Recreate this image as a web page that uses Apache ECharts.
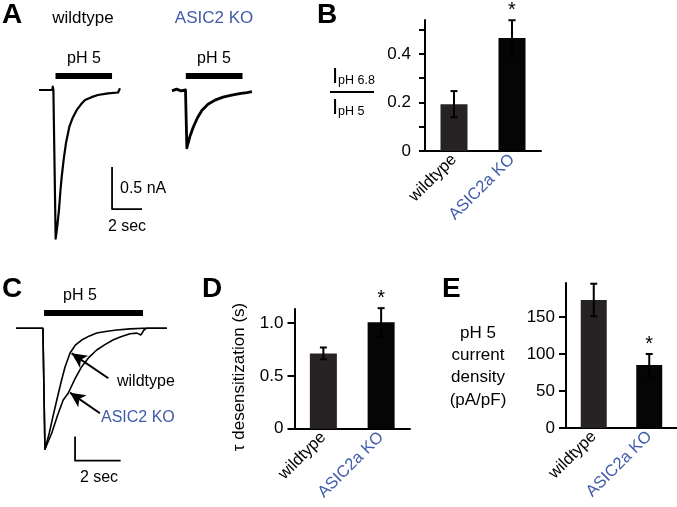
<!DOCTYPE html>
<html><head><meta charset="utf-8">
<script src="https://cdn.jsdelivr.net/npm/echarts@6/dist/echarts.min.js"></script>
<style>html,body{margin:0;padding:0;background:#fff}#c{width:677px;height:507px}</style>
</head><body><div id="c"></div><script>
// ---------- DATA ----------
const groups = ['wildtype', 'ASIC2a KO'];
// B: I(pH 6.8) / I(pH 5)
const ratioMean = [0.193, 0.466];
const ratioSem = [0.054, 0.073];
const ratioSig = [0, 1];
const ratioTicks = [0, 0.1, 0.2, 0.3, 0.4, 0.5];
const ratioTickLabels = [0, 0.2, 0.4];
// D: tau desensitization (s)
const tauMean = [0.714, 1.01];
const tauSem = [0.056, 0.133];
const tauSig = [0, 1];
const tauTicks = [0, 0.5, 1.0];
// E: pH 5 current density (pA/pF)
const densMean = [173, 85];
const densSem = [22, 15];
const densSig = [0, 1];
const densTicks = [0, 50, 100, 150];

// A: example current traces, [time (s), current (nA)]
const traceA_wt = [[0,0],[0.88,0],[0.92,0.04],[0.96,0],[1.04,0],[1.11,-1.77],[1.22,-1.62],[1.33,-1.43],[1.42,-1.22],[1.51,-1.04],[1.65,-0.82],[1.8,-0.63],[2.02,-0.44],[2.25,-0.33],[2.51,-0.24],[2.8,-0.17],[3.07,-0.12],[3.5,-0.085],[3.93,-0.06],[4.6,-0.04],[5.27,-0.03],[5.36,-0.02],[5.4,0.02]];
const traceA_ko = [[0,-0.01],[0.3,0.01],[0.6,-0.01],[0.9,0],[0.97,0.01],[0.99,-0.69],[1.2,-0.55],[1.42,-0.44],[1.7,-0.33],[2.0,-0.24],[2.4,-0.17],[2.87,-0.12],[3.4,-0.085],[3.98,-0.06],[4.6,-0.04],[5.0,-0.03],[5.33,-0.02]];
const stimA_wt = [1.1, 4.87];
const stimA_ko = [0.92, 4.7];
const stimLevelA = 0.167;          // nA, drawing level of pH bar
const scaleA = [4.87, -1.417];     // corner of 2 s / 0.5 nA scale bar
// C: normalized traces, [time (s), normalized current]
const traceC_wt = [[0,0],[1.18,0],[1.27,-1.0],[1.46,-0.865],[1.62,-0.73],[1.79,-0.593],[1.97,-0.45],[2.15,-0.32],[2.37,-0.204],[2.6,-0.14],[2.88,-0.097],[3.2,-0.065],[3.54,-0.039],[4.0,-0.024],[4.42,-0.014],[5.0,-0.005],[5.57,0],[6.62,0]];
const traceC_ko = [[0,0],[1.18,0],[1.27,-1.0],[1.57,-0.865],[1.82,-0.72],[2.07,-0.593],[2.29,-0.537],[2.58,-0.42],[2.88,-0.317],[3.2,-0.24],[3.54,-0.179],[3.9,-0.135],[4.25,-0.097],[4.6,-0.07],[5.0,-0.045],[5.3,-0.04],[5.48,-0.055],[5.61,-0.014],[5.72,0],[6.62,0]];
const stimC = [1.23, 5.57];
const stimLevelC = 0.126;
const scaleC = [2.59, -1.094];     // corner of 2 s scale bar
const arrowsC = [[[4.05,-0.413],[2.44,-0.207]], [[3.68,-0.702],[2.37,-0.532]]];

// ---------- STYLE ----------
const FONT = '"Liberation Sans", Arial, Helvetica, sans-serif';
const BLUE = '#3f5ba9';
const groupColors = ['#000000', BLUE];
const barColors = ['#272324', '#050505'];

const chart = echarts.init(document.getElementById('c'));

function errRender(params, api) {
  const xi = api.value(0), m = api.value(1), s = api.value(2), sig = api.value(3);
  const top = api.coord([xi, m + s]);
  const bot = api.coord([xi, m - s]);
  const x = top[0], cap = 3.5;
  const ls = {stroke: '#000', lineWidth: 2};
  const ch = [
    {type: 'line', shape: {x1: x, y1: top[1], x2: x, y2: bot[1]}, style: ls},
    {type: 'line', shape: {x1: x - cap, y1: top[1], x2: x + cap, y2: top[1]}, style: ls},
    {type: 'line', shape: {x1: x - cap, y1: bot[1], x2: x + cap, y2: bot[1]}, style: ls}
  ];
  if (sig) ch.push({type: 'text', x: x, y: top[1] - 10, style: {text: '*', fontSize: 20, fontFamily: FONT, fill: '#000', align: 'center', verticalAlign: 'middle'}});
  return {type: 'group', children: ch};
}
function errData(mean, sem, sig) { return mean.map((m, i) => [i, m, sem[i], sig[i]]); }
function barData(mean) { return mean.map((v, i) => ({value: v, itemStyle: {color: barColors[i]}})); }

const hiddenX = (g, max) => ({gridIndex: g, type: 'value', min: 0, max: max, show: false});
const hiddenY = (g, min, max) => ({gridIndex: g, type: 'value', min: min, max: max, show: false});
const catX = (g, margin) => ({
  gridIndex: g, type: 'category', data: groups,
  axisLine: {lineStyle: {color: '#000', width: 2}},
  axisTick: {show: false},
  axisLabel: {rotate: 45, fontSize: 16.5, fontFamily: FONT, margin: margin, color: (v, i) => groupColors[i]}
});
const valY = (g, max, ticks, labels, fmt, margin, tickLen) => ({
  gridIndex: g, type: 'value', min: 0, max: max,
  splitLine: {show: false},
  axisLine: {show: true, lineStyle: {color: '#000', width: 2}},
  axisTick: {show: true, length: tickLen, lineStyle: {color: '#000', width: 2}, customValues: ticks},
  axisLabel: {customValues: labels, formatter: fmt, fontSize: 17, fontFamily: FONT, color: '#000', margin: margin}
});
const fmt1 = v => (v === 0 ? '0' : v.toFixed(1));
const fmt0 = v => String(Math.round(v));

const lineS = (xi, data, width, color) => ({
  type: 'line', xAxisIndex: xi, yAxisIndex: xi, data: data, showSymbol: false, symbol: 'none',
  lineStyle: {color: color || '#000', width: width, cap: 'butt', join: 'round'}, silent: true, clip: false, z: 3
});

const option = {
  animation: false,
  backgroundColor: '#fff',
  textStyle: {fontFamily: FONT},
  grid: [
    {left: 39, top: 69, width: 105, height: 176.4},     // 0 A wildtype
    {left: 172, top: 69, width: 105, height: 176.4},    // 1 A KO
    {left: 425, top: 20, width: 116, height: 131},      // 2 B
    {left: 16, top: 304.1, width: 159.6, height: 157.3},// 3 C
    {left: 294.5, top: 309, width: 115.5, height: 119.7},// 4 D
    {left: 566, top: 283, width: 114, height: 145}      // 5 E
  ],
  xAxis: [hiddenX(0, 7), hiddenX(1, 7), catX(2, 6), hiddenX(3, 7), catX(4, 6), catX(5, 6)],
  yAxis: [
    hiddenY(0, -1.85, 0.25), hiddenY(1, -1.85, 0.25),
    valY(2, 0.54, ratioTicks, ratioTickLabels, fmt1, 14, 6),
    hiddenY(3, -1.1, 0.2),
    valY(4, 1.135, tauTicks, tauTicks, fmt1, 11, 7),
    valY(5, 196, densTicks, densTicks, fmt0, 11, 7)
  ],
  series: [
    lineS(0, traceA_wt, 2.2),
    lineS(0, stimA_wt.map(t => [t, stimLevelA]), 6),
    lineS(0, [[scaleA[0], scaleA[1] + 0.5], scaleA, [scaleA[0] + 2, scaleA[1]]], 1.8),
    lineS(1, traceA_ko, 2.8),
    lineS(1, stimA_ko.map(t => [t, stimLevelA]), 6),
    {type: 'bar', xAxisIndex: 2, yAxisIndex: 2, data: barData(ratioMean), barWidth: 27, silent: true},
    {type: 'custom', xAxisIndex: 2, yAxisIndex: 2, data: errData(ratioMean, ratioSem, ratioSig), renderItem: errRender, clip: false, z: 5, silent: true},
    lineS(3, traceC_wt, 1.6),
    Object.assign(lineS(3, traceC_ko, 1.6), {
      markLine: {
        silent: true, animation: false, symbol: ['none', 'arrow'], symbolSize: [11, 15],
        label: {show: false},
        lineStyle: {type: 'solid', color: '#000', width: 2},
        data: arrowsC.map(a => [{coord: a[0]}, {coord: a[1]}])
      }
    }),
    lineS(3, stimC.map(t => [t, stimLevelC]), 6),
    lineS(3, [[scaleC[0], scaleC[1] + 0.2], scaleC, [scaleC[0] + 2, scaleC[1]]], 1.8),
    {type: 'bar', xAxisIndex: 4, yAxisIndex: 4, data: barData(tauMean), barWidth: 27, silent: true},
    {type: 'custom', xAxisIndex: 4, yAxisIndex: 4, data: errData(tauMean, tauSem, tauSig), renderItem: errRender, clip: false, z: 5, silent: true},
    {type: 'bar', xAxisIndex: 5, yAxisIndex: 5, data: barData(densMean), barWidth: 26, silent: true},
    {type: 'custom', xAxisIndex: 5, yAxisIndex: 5, data: errData(densMean, densSem, densSig), renderItem: errRender, clip: false, z: 5, silent: true}
  ],
  graphic: [
    // panel letters
    {type: 'text', left: 2, top: 1, style: {text: 'A', fontSize: 28, fontWeight: 'bold', fontFamily: FONT, fill: '#000'}},
    {type: 'text', left: 317, top: 1, style: {text: 'B', fontSize: 28, fontWeight: 'bold', fontFamily: FONT, fill: '#000'}},
    {type: 'text', left: 2, top: 275, style: {text: 'C', fontSize: 28, fontWeight: 'bold', fontFamily: FONT, fill: '#000'}},
    {type: 'text', left: 202, top: 275, style: {text: 'D', fontSize: 28, fontWeight: 'bold', fontFamily: FONT, fill: '#000'}},
    {type: 'text', left: 442, top: 275, style: {text: 'E', fontSize: 28, fontWeight: 'bold', fontFamily: FONT, fill: '#000'}},
    // panel A text
    {type: 'text', x: 83, y: 18.5, style: {text: 'wildtype', fontSize: 17, fontFamily: FONT, fill: '#000', align: 'center', verticalAlign: 'middle'}},
    {type: 'text', x: 214, y: 18.5, style: {text: 'ASIC2 KO', fontSize: 17, fontFamily: FONT, fill: BLUE, align: 'center', verticalAlign: 'middle'}},
    {type: 'text', x: 84, y: 58.5, style: {text: 'pH 5', fontSize: 16, fontFamily: FONT, fill: '#000', align: 'center', verticalAlign: 'middle'}},
    {type: 'text', x: 214, y: 58.5, style: {text: 'pH 5', fontSize: 16, fontFamily: FONT, fill: '#000', align: 'center', verticalAlign: 'middle'}},
    {type: 'text', x: 120, y: 188.5, style: {text: '0.5 nA', fontSize: 16, fontFamily: FONT, fill: '#000', align: 'left', verticalAlign: 'middle'}},
    {type: 'text', x: 127, y: 227, style: {text: '2 sec', fontSize: 16, fontFamily: FONT, fill: '#000', align: 'center', verticalAlign: 'middle'}},
    // panel B y label (fraction)
    {type: 'text', x: 332, y: 77, style: {text: 'I', fontSize: 22, fontFamily: FONT, fill: '#000', align: 'left', verticalAlign: 'middle'}},
    {type: 'text', x: 338, y: 81, style: {text: 'pH 6.8', fontSize: 12.5, fontFamily: FONT, fill: '#000', align: 'left', verticalAlign: 'middle'}},
    {type: 'rect', shape: {x: 330, y: 91, width: 44, height: 2}, style: {fill: '#000'}},
    {type: 'text', x: 332, y: 107.5, style: {text: 'I', fontSize: 22, fontFamily: FONT, fill: '#000', align: 'left', verticalAlign: 'middle'}},
    {type: 'text', x: 338, y: 111.5, style: {text: 'pH 5', fontSize: 12.5, fontFamily: FONT, fill: '#000', align: 'left', verticalAlign: 'middle'}},
    // panel C text
    {type: 'text', x: 80, y: 296, style: {text: 'pH 5', fontSize: 16, fontFamily: FONT, fill: '#000', align: 'center', verticalAlign: 'middle'}},
    {type: 'text', x: 117, y: 382, style: {text: 'wildtype', fontSize: 16, fontFamily: FONT, fill: '#000', align: 'left', verticalAlign: 'middle'}},
    {type: 'text', x: 101, y: 417.5, style: {text: 'ASIC2 KO', fontSize: 16, fontFamily: FONT, fill: BLUE, align: 'left', verticalAlign: 'middle'}},
    {type: 'text', x: 99, y: 478, style: {text: '2 sec', fontSize: 16, fontFamily: FONT, fill: '#000', align: 'center', verticalAlign: 'middle'}},
    // panel D y label
    {type: 'text', x: 239, y: 377, rotation: Math.PI / 2, style: {text: 'τ desensitization (s)', fontSize: 17, fontFamily: FONT, fill: '#000', align: 'center', verticalAlign: 'middle'}},
    // panel E y label
    {type: 'text', x: 478, y: 366.5, style: {text: 'pH 5\ncurrent\ndensity\n(pA/pF)', fontSize: 17, lineHeight: 22.3, fontFamily: FONT, fill: '#000', align: 'center', verticalAlign: 'middle'}}
  ]
};
chart.setOption(option);
</script></body></html>
